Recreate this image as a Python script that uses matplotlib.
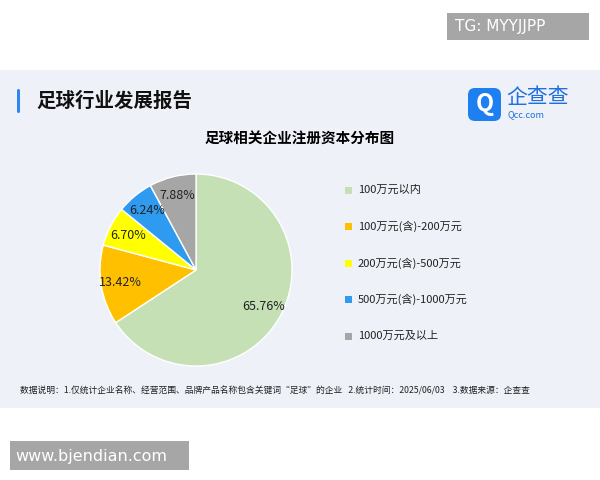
import matplotlib.pyplot as plt
from matplotlib.patches import Rectangle, FancyBboxPatch

plt.rcParams['font.family'] = ['Noto Sans CJK SC', 'DejaVu Sans']

labels = ['100万元以内', '100万元(含)-200万元', '200万元(含)-500万元',
          '500万元(含)-1000万元', '1000万元及以上']
shares = [65.76, 13.42, 6.70, 6.24, 7.88]
colors = ['#c5e0b4', '#ffc000', '#ffff00', '#2e9bf0', '#a6a6a6']

W, H = 600, 480
fig = plt.figure(figsize=(6, 4.8), dpi=100)
bg = fig.add_axes([0, 0, 1, 1])
bg.set_xlim(0, W)
bg.set_ylim(H, 0)
bg.axis('off')

# panel
bg.add_patch(Rectangle((0, 70), W, 338, facecolor='#eef2f8', edgecolor='none'))
bg.add_patch(FancyBboxPatch((17, 89), 3, 24, boxstyle='round,pad=0,rounding_size=1.5',
                            facecolor='#2f86f0', edgecolor='none'))
bg.text(36, 101, '足球行业发展报告', fontsize=14, weight='bold', va='center', color='#111')
# logo
bg.add_patch(FancyBboxPatch((468, 88), 33, 33, boxstyle='round,pad=0,rounding_size=7',
                            facecolor='#1e7ff0', edgecolor='none'))
bg.text(484.5, 104.5, 'Q', fontsize=17, weight='bold', color='white', ha='center', va='center')
bg.text(506, 97, '企查查', fontsize=15, color='#1e6fe0', va='center')
bg.text(507, 115, 'Qcc.com', fontsize=6.5, color='#1e6fe0', va='center')
bg.text(300, 139, '足球相关企业注册资本分布图', fontsize=10.5, weight='bold', ha='center', va='center')
bg.text(20, 391, '数据说明：1.仅统计企业名称、经营范围、品牌产品名称包含关键词“足球”的企业   2.统计时间：2025/06/03    3.数据来源：企查查',
        fontsize=6.3, va='center', color='#222')

# watermarks
bg.add_patch(Rectangle((447, 13), 142, 27, facecolor='#a6a6a6', edgecolor='none'))
bg.text(455, 27, 'TG: MYYJJPP', fontsize=11, color='white', va='center', family='DejaVu Sans')
bg.add_patch(Rectangle((10, 441), 179, 29, facecolor='#a6a6a6', edgecolor='none'))
bg.text(15, 456, 'www.bjendian.com', fontsize=11.5, color='white', va='center', family='DejaVu Sans')

# pie
cx, cy, r = 196, 270, 96
ax = fig.add_axes([(cx - r) / W, (H - cy - r) / H, 2 * r / W, 2 * r / H])
ax.pie(shares, colors=colors, startangle=90, counterclock=False,
       autopct='%.2f%%', pctdistance=0.8,
       wedgeprops=dict(edgecolor='white', linewidth=1),
       textprops=dict(fontsize=9, color='#222'))
ax.set_xlim(-1, 1)
ax.set_ylim(-1, 1)
ax.set_aspect('equal')

# legend
for i, (lab, c) in enumerate(zip(labels, colors)):
    y = 190 + i * 36.5
    bg.add_patch(Rectangle((345, y - 3.5), 7, 7, facecolor=c, edgecolor='none'))
    bg.text(358, y, lab, fontsize=8, va='center', color='#222')

fig.savefig('out.png', dpi=100)
